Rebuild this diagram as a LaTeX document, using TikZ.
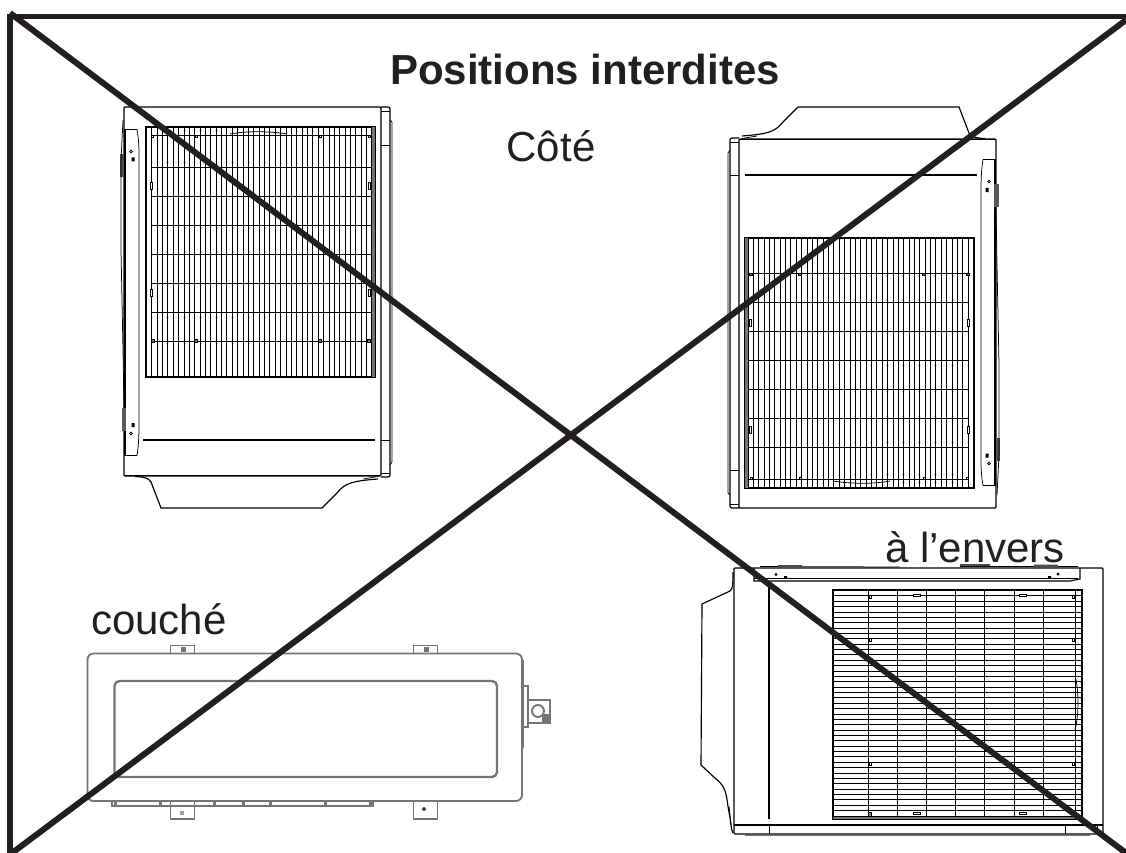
\documentclass[tikz,border=0pt]{standalone}
\usepackage{fontspec}
\setmainfont{Liberation Sans}
\definecolor{ink}{HTML}{231F20}
\definecolor{soft}{HTML}{757575}
\tikzset{
  x=1pt,y=-1pt,
  frameline/.style={ink,line width=5.6pt},
  crossline/.style={ink,line width=6pt},
  part/.style={black,line width=1.15pt},
  thin part/.style={black,line width=.75pt},
  rail/.style={black,line width=1.4pt},
  slat/.style={black,line width=1.3pt},
  blurred/.style={soft,line width=1.9pt},
  label/.style={anchor=base,inner sep=0pt,text=ink,font=\fontsize{42}{42}\selectfont},
}
\newcommand{\uprightunit}{%
  % body
  \draw[part,rounded corners=1pt] (124,107) -- (381,107) -- (381,476) -- (124,476) -- cycle;
  \draw[rail] (124,475.5) -- (381,475.5);
  \draw[part,rounded corners=2pt] (381,107) -- (390,107) -- (390,477) -- (381,477);
  \draw[thin part] (381,111) -- (390,111) (381,145) -- (390,145) (381,440) -- (390,440) (381,473) -- (390,473);
  \draw[thin part] (390,120) -- (392,122) -- (392,462) -- (390,465);
  \draw[part] (143,440) -- (375,440);
  % handle panel
  \draw[part] (137,129.5) -- (125,129.5) -- (125,455.5) -- (137,455.5);
  \draw[thin part] (137,129.5) .. controls (139,140) and (139,150) .. (139,160) -- (139,425) .. controls (139,440) and (138,450) .. (137,455.5);
  \draw[thin part] (131,151.5) circle (1.3) (131,433.5) circle (1.3);
  \fill (131.5,157.5) rectangle (134.5,161.5) (131.5,423) rectangle (134.5,427);
  \fill[black!70] (120,154) rectangle (123.5,177);
  \fill[black!65] (121.5,408) rectangle (126,431);
  \draw[thin part] (123,120) -- (121,160) -- (121,250) -- (123,350) -- (124,408);
  % foot
  \draw[part] (135,476.5) .. controls (142,477) and (148,477) .. (151,482) -- (161,508) -- (322,508) -- (337,493) .. controls (345,483) and (352,481) .. (378,479);
  \draw[thin part] (363,479) -- (378,476.5);
  % grille
  \draw[rail] (146,127) rectangle (375,377);
  \fill[black!55] (371.5,127) rectangle (375,377);
  \foreach \i in {0,...,41} {
    \pgfmathsetmacro{\vx}{round(151.3+5.37*\i)+.5}
    \draw[black,line width=1.2pt] (\vx,127) -- (\vx,377);
  }
  \foreach \vy in {135.5,167.5,196.5,225.5,254.5,283.5,312.5,341.5} {
    \draw[slat] (151,\vy) -- (372,\vy);
  }
  \draw[thin part] (230,134) .. controls (245,131) and (270,131) .. (287,134);
  \foreach \vx in {152.5,196,320,369} {
    \draw[thin part,fill=white] (\vx-1,135.5) rectangle (\vx+1,137.5);
    \draw[black,fill=black!55,line width=.4pt] (\vx-1.5,339.5) rectangle (\vx+1.5,342);
  }
  \foreach \vx in {151.5,369.5} \foreach \vy in {182,289} {
    \draw[thin part,fill=white] (\vx-1,\vy) rectangle (\vx+1,\vy+7);
  }
}
\begin{document}
\begin{tikzpicture}
\useasboundingbox (0,0) rectangle (1126,853);
% --- upright units
\begin{scope}
  \uprightunit
\end{scope}
\begin{scope}[shift={(1120,615)},xscale=-1,yscale=-1]
  \uprightunit
\end{scope}
% --- lying unit
\draw[blurred,rounded corners=6pt] (87.5,653.5) rectangle (522,801);
\draw[blurred,line width=2.4pt,rounded corners=5pt] (114.5,681) rectangle (497,777);
\foreach \tx in {170.5,413.5} {
  \draw[blurred,line width=1.4pt] (\tx,653) -- (\tx,645.5) -- (\tx+24,645.5) -- (\tx+24,653);
  \fill[soft] (\tx+10,647) rectangle (\tx+15,652);
  \draw[blurred,line width=1.4pt] (\tx,801) -- (\tx,819) -- (\tx+24,819) -- (\tx+24,801);
}
\draw[blurred,line width=1.4pt] (112,801) -- (112,806) -- (373,806) -- (373,801);
\foreach \tx in {115,160,214,243,270,325,370} {
  \fill[soft] (\tx-1.5,801) rectangle (\tx+1.5,807);
}
\fill[soft!70] (180,811) rectangle (184,815);
\fill[black!75] (424,809) circle (2);
\draw[blurred,line width=2pt] (523,660) -- (523,748);
\draw[blurred,line width=1.4pt] (524,686) -- (528,686) -- (528,727) -- (524,727);
\draw[blurred,line width=1.5pt] (528,700) -- (550,700) -- (550,723) -- (528,723);
\draw[blurred] (538,711) circle (6);
\fill[soft] (542,714) rectangle (550,722);
% --- upside-down unit
\draw[part,rounded corners=1pt] (734,568) -- (1103,568) -- (1103,834) -- (734,834) -- cycle;
\draw[part] (734,825) -- (1103,825);
\draw[thin part] (769,825) -- (769,834) (1065,825) -- (1065,834) (1097,825) -- (1097,834);
\draw[soft,line width=1.2pt] (745,835.5) -- (1090,835.5);
\draw[part] (769,584) -- (769,819);
\draw[part] (754,568) -- (754,581) -- (1070,581) -- (1080,579) -- (1080,568);
\draw[thin part] (754,578.5) -- (1078,578.5);
\draw[thin part] (760,566.5) -- (900,567) (960,566.5) -- (1078,566.5);
\fill[black!70] (778,565) rectangle (802,568) (1034,564.5) rectangle (1058,568) (960,564) rectangle (990,566);
\draw[thin part] (776,574.5) circle (1.2) (1058,574) circle (1.2);
\fill (784,576) rectangle (787,578.5) (1048,576) rectangle (1051,578.5);
\draw[part] (733,572) .. controls (733,580) and (733,590) .. (730,591) -- (702,604) -- (701,765) -- (716,779) .. controls (728,788) and (726,798) .. (729,812) .. controls (731,822) and (731,830) .. (733,833);
\draw[thin part] (729,806) -- (731,825);
\draw[rail] (833,590) rectangle (1082,819);
\fill[black!55] (833,816) rectangle (1082,819);
\foreach \i in {0,...,41} {
  \pgfmathsetmacro{\hy}{round(595.4+5.37*\i)+.5}
  \draw[black,line width=1.2pt] (833,\hy) -- (1082,\hy);
}
\foreach \rx in {868.5,897.5,926.5,955.5,984.5,1014.5,1043.5,1075.5} {
  \draw[slat] (\rx,590) -- (\rx,817);
}
\draw[thin part] (1075,676) .. controls (1079,690) and (1079,715) .. (1075,730);
\foreach \ry in {597,640,764} {
  \draw[thin part,fill=white] (869,\ry-1.5) rectangle (871,\ry+1.5);
  \draw[thin part,fill=white] (1072,\ry-1.5) rectangle (1074,\ry+1.5);
}
\draw[thin part,fill=black!50] (868.5,812) rectangle (871,816);
\draw[thin part,fill=black!50] (1072,812) rectangle (1074.5,816);
\foreach \ry in {595.5,813} {
  \draw[thin part,fill=white] (913,\ry-1) rectangle (920,\ry+1);
  \draw[thin part,fill=white] (1019.5,\ry-1) rectangle (1026.5,\ry+1);
}
% --- frame and cross
\draw[frameline] (10,853) -- (10,16.5) -- (1126,16.5);
\coordinate (tl) at (10,13);
\coordinate (tr) at (1126,20);
\coordinate (bl) at (12,853);
\coordinate (br) at (1126,853);
\draw[crossline] (tl) -- (br);
\draw[crossline] (tr) -- (bl);
% --- labels
\node[label,font=\fontsize{42}{42}\selectfont\bfseries] (title) at (585,84.5) {Positions interdites};
\node[label] (side) at (551,161.5) {Côté};
\node[label] (lying) at (159,634.5) {couché};
\node[label] (upside) at (975,562) {à l’envers};
\end{tikzpicture}
\end{document}
